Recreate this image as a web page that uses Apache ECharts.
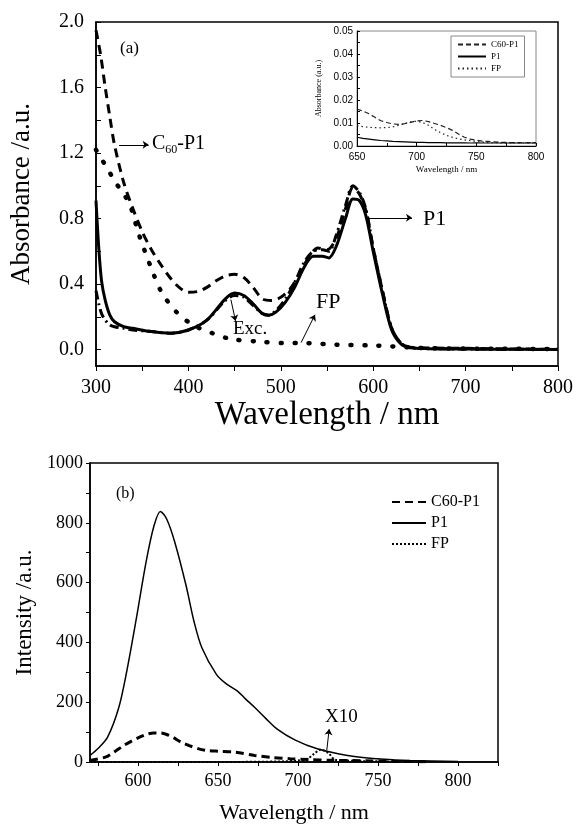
<!DOCTYPE html>
<html>
<head>
<meta charset="utf-8">
<script src="https://cdn.jsdelivr.net/npm/echarts@6/dist/echarts.min.js"></script>
<style>
  html, body { margin: 0; padding: 0; background: #fff; }
  #chart { width: 576px; height: 825px; }
</style>
</head>
<body>
<div id="chart"></div>
<script>
// ---- (a) absorption ----
const absWlP1 = [300, 303, 306, 310, 315, 320, 330, 340, 360, 380, 400, 420, 440, 450, 460, 470, 480, 487, 495, 505, 515, 525, 535, 545, 552, 560, 570, 578, 585, 592, 600, 610, 620, 630, 640, 660, 700, 750, 800];
const absP1 = [0.91, 0.62, 0.42, 0.30, 0.21, 0.17, 0.14, 0.13, 0.11, 0.10, 0.12, 0.18, 0.31, 0.345, 0.33, 0.28, 0.22, 0.21, 0.23, 0.29, 0.38, 0.50, 0.57, 0.57, 0.56, 0.63, 0.80, 0.92, 0.91, 0.82, 0.60, 0.34, 0.12, 0.035, 0.012, 0.006, 0.004, 0.002, 0.001];
const absExc = [0.36, 0.28, 0.22, 0.18, 0.15, 0.14, 0.13, 0.12, 0.11, 0.10, 0.12, 0.18, 0.30, 0.33, 0.32, 0.27, 0.22, 0.21, 0.24, 0.31, 0.41, 0.53, 0.60, 0.61, 0.60, 0.70, 0.88, 1.00, 0.96, 0.86, 0.62, 0.36, 0.13, 0.04, 0.012, 0.006, 0.004, 0.002, 0.001];
const absWlC60 = [300, 305, 310, 315, 320, 330, 340, 350, 360, 370, 380, 390, 400, 410, 420, 430, 440, 450, 460, 470, 480, 490, 500, 510, 520, 530, 540, 550, 560, 570, 578, 585, 592, 600, 610, 620, 630, 640, 660, 700, 750, 800];
const absC60 = [1.95, 1.80, 1.60, 1.42, 1.25, 1.02, 0.86, 0.72, 0.61, 0.52, 0.44, 0.38, 0.35, 0.355, 0.38, 0.42, 0.45, 0.46, 0.44, 0.38, 0.31, 0.30, 0.32, 0.37, 0.46, 0.56, 0.62, 0.61, 0.68, 0.86, 0.99, 0.95, 0.85, 0.62, 0.36, 0.13, 0.04, 0.015, 0.01, 0.008, 0.004, 0.002];
const absWlFP = [300, 305, 311, 320, 330, 337, 346, 361, 371, 387, 405, 426, 446, 474, 503, 522, 560, 600, 620, 650, 700, 800];
const absFP = [1.22, 1.17, 1.12, 1.03, 0.95, 0.88, 0.71, 0.48, 0.35, 0.23, 0.15, 0.10, 0.065, 0.05, 0.04, 0.04, 0.03, 0.025, 0.02, 0.01, 0.006, 0.004];
const absXTicks = [300, 350, 400, 450, 500, 550, 600, 650, 700, 750, 800];
const absXLabels = [300, 400, 500, 600, 700, 800];
const absYTicks = [0, 0.2, 0.4, 0.6, 0.8, 1.0, 1.2, 1.4, 1.6, 1.8, 2.0];
const absYLabels = [0, 0.4, 0.8, 1.2, 1.6, 2.0];

// ---- inset ----
const insWl = [650, 655, 660, 665, 670, 675, 680, 685, 690, 695, 700, 705, 710, 715, 720, 725, 730, 735, 740, 745, 750, 755, 760, 770, 780, 790, 800];
const insC60 = [0.016, 0.0152, 0.014, 0.0125, 0.011, 0.0102, 0.0096, 0.0094, 0.0097, 0.0103, 0.0109, 0.0111, 0.0106, 0.0098, 0.009, 0.008, 0.0068, 0.0052, 0.0038, 0.003, 0.0025, 0.0021, 0.002, 0.0016, 0.0015, 0.0014, 0.0015];
const insP1 = [0.0038, 0.0033, 0.003, 0.0027, 0.0024, 0.0022, 0.002, 0.0019, 0.0018, 0.0017, 0.0016, 0.0016, 0.0015, 0.0015, 0.0015, 0.0014, 0.0014, 0.0014, 0.0014, 0.0013, 0.0014, 0.0013, 0.0013, 0.0013, 0.0013, 0.0013, 0.0013];
const insFP = [0.0088, 0.0084, 0.0081, 0.008, 0.0079, 0.008, 0.0083, 0.009, 0.0098, 0.0105, 0.0108, 0.0102, 0.009, 0.0072, 0.0058, 0.0046, 0.0038, 0.0031, 0.0027, 0.0023, 0.002, 0.0017, 0.0015, 0.0014, 0.0013, 0.0013, 0.0013];
const insXTicks = [650, 675, 700, 725, 750, 775, 800];
const insXLabels = [650, 700, 750, 800];
const insYTicks = [0, 0.005, 0.01, 0.015, 0.02, 0.025, 0.03, 0.035, 0.04, 0.045, 0.05];
const insYLabels = [0, 0.01, 0.02, 0.03, 0.04, 0.05];

// ---- (b) emission ----
const emWlP1 = [570, 575, 581, 588, 593, 599, 605, 610, 614, 618, 623, 630, 635, 640, 649, 655, 662, 667, 673, 680, 687, 698, 712, 731, 754, 770, 800];
const emP1 = [22, 45, 83, 182, 304, 481, 668, 790, 838, 812, 735, 591, 470, 381, 293, 262, 238, 212, 182, 145, 110, 74, 44, 22, 9, 5, 2];
const emWlC60 = [570, 580, 585, 591, 596, 601, 605, 610, 614, 618, 622, 627, 632, 638, 644, 650, 661, 673, 684, 695, 707, 720, 742, 760, 780];
const emC60 = [5, 17, 33, 55, 70, 83, 92, 97, 97, 92, 82, 66, 55, 44, 38, 36, 33, 22, 15, 11, 8, 6, 4, 2, 1];
const emWlFP = [570, 600, 650, 690, 700, 706, 710, 714, 719, 723, 730, 740, 755, 770];
const emFP = [0, 0, 0, 2, 5, 11, 27, 41, 30, 8, 5, 3, 2, 1];
const emXTicks = [575, 600, 625, 650, 675, 700, 725, 750, 775, 800, 825];
const emXLabels = [600, 650, 700, 750, 800];
const emYTicks = [0, 100, 200, 300, 400, 500, 600, 700, 800, 900, 1000];
const emYLabels = [0, 200, 400, 600, 800, 1000];

function pairs(xs, ys) {
  return xs.map((x, i) => [x, ys[i]]);
}

const serif = 'Liberation Serif';
const sans = 'Liberation Sans';

function arrow(from, to) {
  return {
    silent: true,
    symbol: ['none', 'arrow'],
    symbolSize: 6,
    label: { show: false },
    lineStyle: { color: '#000', width: 1, type: 'solid' },
    data: [[{ coord: from }, { coord: to }]]
  };
}

// same settings for x and y axes
function axisCfg(grid, min, max, ticks, labels, opt) {
  return {
    type: 'value', gridIndex: grid, min: min, max: max,
    name: opt.name, nameLocation: 'middle', nameGap: opt.nameGap,
    nameTextStyle: { fontFamily: serif, fontSize: opt.nameSize, color: '#000' },
    axisLine: { show: true, onZero: false, lineStyle: { color: '#000', width: opt.lw || 1.5 } },
    axisTick: { show: true, inside: !!opt.inside, length: opt.tickLen || 5, customValues: ticks, lineStyle: { color: '#000', width: 1 } },
    axisLabel: { customValues: labels, fontFamily: opt.labelFont || serif, fontSize: opt.labelSize, color: '#000', margin: opt.margin || 8, formatter: opt.fmt || (v => String(v)) },
    splitLine: { show: false }
  };
}

const chart = echarts.init(document.getElementById('chart'));

const option = {
  animation: false,
  backgroundColor: '#fff',
  grid: [
    { left: 90, top: 22, width: 468, height: 344, show: true, borderColor: '#000', borderWidth: 1.5 },
    { left: 357, top: 31, width: 179, height: 115, show: true, borderColor: '#888', borderWidth: 1, backgroundColor: '#fff' },
    { left: 90, top: 463, width: 408, height: 302, show: true, borderColor: '#000', borderWidth: 1.5 }
  ],
  xAxis: [
    axisCfg(0, 300, 800, absXTicks, absXLabels, { name: 'Wavelength / nm', nameGap: 31, nameSize: 33, labelSize: 20, margin: 12, tickLen: 5 }),
    axisCfg(1, 650, 800, insXTicks, insXLabels, { name: 'Wavelength / nm', nameGap: 19, nameSize: 9, labelSize: 10, labelFont: sans, margin: 6, inside: true, tickLen: 3, lw: 1 }),
    axisCfg(2, 570, 825, emXTicks, emXLabels, { name: 'Wavelength / nm', nameGap: 40, nameSize: 22, labelSize: 18, margin: 10, tickLen: 4 })
  ],
  yAxis: [
    axisCfg(0, -0.1, 2.0, absYTicks, absYLabels, { name: 'Absorbance /a.u.', nameGap: 61, nameSize: 27, labelSize: 20, margin: 12, inside: true, tickLen: 5, fmt: v => v.toFixed(1) }),
    axisCfg(1, 0, 0.05, insYTicks, insYLabels, { name: 'Absorbance (a.u.)', nameGap: 34, nameSize: 8, labelSize: 10, labelFont: sans, margin: 4, inside: true, tickLen: 3, lw: 1, fmt: v => v.toFixed(2) }),
    axisCfg(2, 0, 1000, emYTicks, emYLabels, { name: 'Intensity /a.u.', nameGap: 54, nameSize: 23, labelSize: 18, margin: 7, tickLen: 4 })
  ],
  legend: [
    {
      orient: 'vertical', left: 451, top: 36, itemWidth: 28, itemHeight: 8, itemGap: 3,
      padding: [4, 6, 4, 6], borderColor: '#888', borderWidth: 1, backgroundColor: '#fff',
      itemStyle: { color: 'rgba(0,0,0,0)', borderWidth: 0 },
      textStyle: { fontFamily: serif, fontSize: 9, color: '#000' },
      data: ['C60-P1', 'P1', 'FP']
    },
    {
      orient: 'vertical', left: 386, top: 489, itemWidth: 34, itemHeight: 12, itemGap: 5,
      itemStyle: { color: 'rgba(0,0,0,0)', borderWidth: 0 },
      textStyle: { fontFamily: serif, fontSize: 16, color: '#000' },
      formatter: n => n.replace(' em', ''),
      data: ['C60-P1 em', 'P1 em', 'FP em']
    }
  ],
  series: [
    // panel (a)
    { name: 'FP abs', type: 'line', xAxisIndex: 0, yAxisIndex: 0, symbol: 'none', smooth: 0.3,
      lineStyle: { color: '#000', width: 4.5, type: [1, 13], cap: 'round' },
      data: pairs(absWlFP, absFP),
      markLine: arrow([522, 0.043], [537, 0.213]) },
    { name: 'Exc. abs', type: 'line', xAxisIndex: 0, yAxisIndex: 0, symbol: 'none', smooth: 0.3,
      lineStyle: { color: '#000', width: 3, type: [9, 4, 2, 4] },
      data: pairs(absWlP1, absExc),
      markLine: arrow([446, 0.305], [451, 0.175]) },
    { name: 'C60-P1 abs', type: 'line', xAxisIndex: 0, yAxisIndex: 0, symbol: 'none', smooth: 0.3,
      lineStyle: { color: '#000', width: 3, type: [9, 6] },
      data: pairs(absWlC60, absC60),
      markLine: arrow([325, 1.25], [357, 1.25]) },
    { name: 'P1 abs', type: 'line', xAxisIndex: 0, yAxisIndex: 0, symbol: 'none', smooth: 0.3,
      lineStyle: { color: '#000', width: 3 },
      data: pairs(absWlP1, absP1),
      markLine: arrow([594, 0.805], [642, 0.805]) },
    // inset
    { name: 'C60-P1', type: 'line', xAxisIndex: 1, yAxisIndex: 1, symbol: 'none', color: '#222',
      lineStyle: { color: '#222', width: 1.2, type: [5, 3] },
      data: pairs(insWl, insC60) },
    { name: 'P1', type: 'line', xAxisIndex: 1, yAxisIndex: 1, symbol: 'none', color: '#000',
      lineStyle: { color: '#000', width: 1.2 },
      data: pairs(insWl, insP1) },
    { name: 'FP', type: 'line', xAxisIndex: 1, yAxisIndex: 1, symbol: 'none', color: '#222',
      lineStyle: { color: '#222', width: 1.2, type: [1.5, 3] },
      data: pairs(insWl, insFP) },
    // panel (b)
    { name: 'C60-P1 em', type: 'line', xAxisIndex: 2, yAxisIndex: 2, symbol: 'none', smooth: 0.3, color: '#000',
      lineStyle: { color: '#000', width: 3, type: [8, 5] },
      data: pairs(emWlC60, emC60) },
    { name: 'P1 em', type: 'line', xAxisIndex: 2, yAxisIndex: 2, symbol: 'none', smooth: 0.3, color: '#000',
      lineStyle: { color: '#000', width: 1.5 },
      data: pairs(emWlP1, emP1),
      markLine: arrow([718, 40], [719.5, 110]) },
    { name: 'FP em', type: 'line', xAxisIndex: 2, yAxisIndex: 2, symbol: 'none', smooth: 0.3, color: '#000',
      lineStyle: { color: '#000', width: 2, type: [2, 2] },
      data: pairs(emWlFP, emFP) }
  ],
  graphic: [
    { type: 'text', left: 120, top: 40, style: { text: '(a)', fontFamily: serif, fontSize: 17, fill: '#000' } },
    { type: 'text', left: 152, top: 134, style: {
        text: '{m|C}{s|60}{m|-P1}', fill: '#000',
        rich: { m: { fontFamily: serif, fontSize: 20 }, s: { fontFamily: serif, fontSize: 12, padding: [12, 0, 0, 0] } } } },
    { type: 'text', left: 423, top: 208, style: { text: 'P1', fontFamily: serif, fontSize: 22, fill: '#000' } },
    { type: 'text', left: 316, top: 291, style: { text: 'FP', fontFamily: serif, fontSize: 22, fill: '#000' } },
    { type: 'text', left: 233, top: 320, style: { text: 'Exc.', fontFamily: serif, fontSize: 19, fill: '#000' } },
    { type: 'text', left: 116, top: 486, style: { text: '(b)', fontFamily: serif, fontSize: 16, fill: '#000' } },
    { type: 'text', left: 325, top: 708, style: { text: 'X10', fontFamily: serif, fontSize: 19, fill: '#000' } }
  ]
};

chart.setOption(option);
</script>
</body>
</html>
